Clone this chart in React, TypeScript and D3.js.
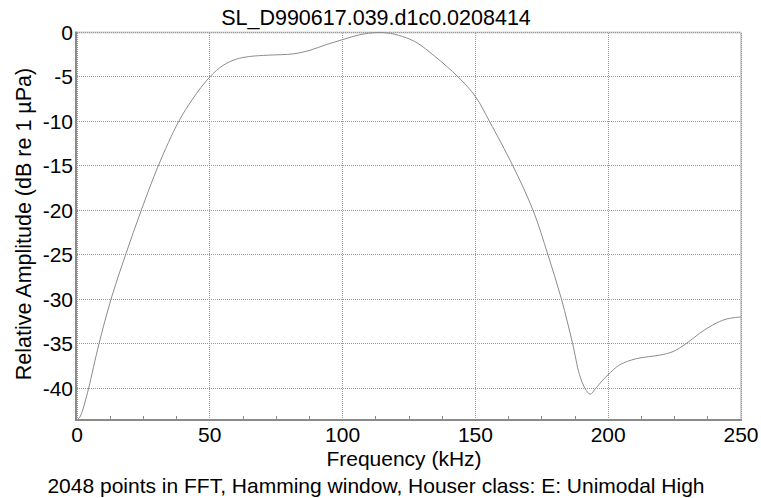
import React from "react";
import * as d3 from "d3";

// Spectrum of click SL_D990617.039 (relative amplitude vs frequency)
const freqKHz = [
  0, 1, 2, 3, 4.4, 8.3, 12.8, 18.3, 24.2, 30.6, 38.3, 43.5, 50, 55, 60, 65, 72, 81.5, 87.7,
  94, 100, 106.5, 113, 118, 124, 128, 134.6, 143.5, 150, 155.3, 164.1, 171.7, 177.3, 182.4,
  186.6, 189.2, 191.4, 193.2, 195.4, 198, 200, 204.3, 210.6, 219.4, 224.4, 229.4, 234.4,
  239.4, 244.4, 250,
];
const amplitudeDb = [
  -43.6, -43.3, -42.6, -41.6, -40, -35, -30, -25, -20, -15, -10, -7.5, -5, -3.7, -3.0, -2.7,
  -2.55, -2.4, -2.0, -1.35, -0.8, -0.25, 0, -0.1, -0.6, -1.16, -2.65, -5, -7.2, -10, -15, -20,
  -25, -30, -35, -38.5, -40.1, -40.7, -40.0, -39.1, -38.5, -37.4, -36.7, -36.3, -35.9, -35,
  -33.85, -32.9, -32.25, -32.0,
];

const xTicks = [0, 50, 100, 150, 200, 250];
const yTicks = [0, -5, -10, -15, -20, -25, -30, -35, -40];
const minorStep = 12.5;

const titleText = "SL_D990617.039.d1c0.0208414";
const xTitle = "Frequency (kHz)";
const yTitle = "Relative Amplitude (dB re 1 µPa)";
const subTitle = "2048 points in FFT, Hamming window, Houser class: E: Unimodal High";

const W = 761;
const H = 498;
const left = 77;
const right = 741;
const top = 32.5;
const bottom = 420;
const font = "'Liberation Sans', Arial, sans-serif";

export default function App() {
  const x = d3.scaleLinear().domain([0, 250]).range([left, right]);
  const y = d3.scaleLinear().domain([-43.6, 0]).range([bottom, top]);

  const pts = freqKHz.map((f, i) => [f, amplitudeDb[i]] as [number, number]);
  const line = d3
    .line<[number, number]>()
    .x((d) => x(d[0]))
    .y((d) => y(d[1]))
    .curve(d3.curveCatmullRom.alpha(0.5));

  const minor = d3.range(0, 250 + 0.001, minorStep).filter((v) => v % 50 !== 0);

  return (
    <div style={{ position: "absolute", left: 0, top: 0 }}>
      <svg width={W} height={H} style={{ display: "block", background: "#fff" }}>
        <defs>
          <clipPath id="plot-clip">
            <rect x={left} y={top - 1} width={right - left} height={bottom - top + 1} />
          </clipPath>
        </defs>

        {/* frame on top and right */}
        <line x1={left} x2={right} y1={top} y2={top} stroke="#d4d4d4" strokeWidth={2} />
        <line x1={right} x2={right} y1={top} y2={bottom} stroke="#d0d0d0" strokeWidth={2} />

        {/* grid */}
        {yTicks.map((t) => (
          <line
            key={"gy" + t}
            x1={left}
            x2={right}
            y1={y(t)}
            y2={y(t)}
            stroke="#9a9a9a"
            strokeWidth={1}
            strokeDasharray="1,1"
            shapeRendering="crispEdges"
          />
        ))}
        {xTicks.map((t) => (
          <line
            key={"gx" + t}
            x1={x(t)}
            x2={x(t)}
            y1={top}
            y2={bottom}
            stroke="#9a9a9a"
            strokeWidth={1}
            strokeDasharray="1,1"
            shapeRendering="crispEdges"
          />
        ))}

        {/* spectrum */}
        <path
          d={line(pts) ?? ""}
          fill="none"
          stroke="#8c8c8c"
          strokeWidth={1}
          clipPath="url(#plot-clip)"
        />

        {/* axes */}
        <line x1={left - 1} x2={left - 1} y1={top - 1} y2={bottom + 1} stroke="#8a8a8a" strokeWidth={2} />
        <line x1={left - 2} x2={right + 1} y1={bottom} y2={bottom} stroke="#8a8a8a" strokeWidth={2} />
        {minor.map((t) => (
          <line
            key={"mx" + t}
            x1={x(t)}
            x2={x(t)}
            y1={bottom}
            y2={bottom - 4}
            stroke="#8a8a8a"
            strokeWidth={1}
            shapeRendering="crispEdges"
          />
        ))}

        {/* tick labels */}
        {yTicks.map((t) => (
          <text
            key={"ly" + t}
            x={left - 4}
            y={y(t)}
            dy="0.36em"
            textAnchor="end"
            fontFamily={font}
            fontSize={21}
            fill="#000"
          >
            {t}
          </text>
        ))}
        {xTicks.map((t) => (
          <text
            key={"lx" + t}
            x={x(t)}
            y={442}
            textAnchor="middle"
            fontFamily={font}
            fontSize={21}
            fill="#000"
          >
            {t}
          </text>
        ))}

        {/* titles */}
        <text x={376} y={25} textAnchor="middle" fontFamily={font} fontSize={21.5} fill="#000">
          {titleText}
        </text>
        <text x={404} y={466} textAnchor="middle" fontFamily={font} fontSize={21} fill="#000">
          {xTitle}
        </text>
        <text x={376} y={493} textAnchor="middle" fontFamily={font} fontSize={21} fill="#000">
          {subTitle}
        </text>
        <text
          transform={`translate(31,224) rotate(-90)`}
          textAnchor="middle"
          fontFamily={font}
          fontSize={21.5}
          fill="#000"
        >
          {yTitle}
        </text>
      </svg>
    </div>
  );
}
